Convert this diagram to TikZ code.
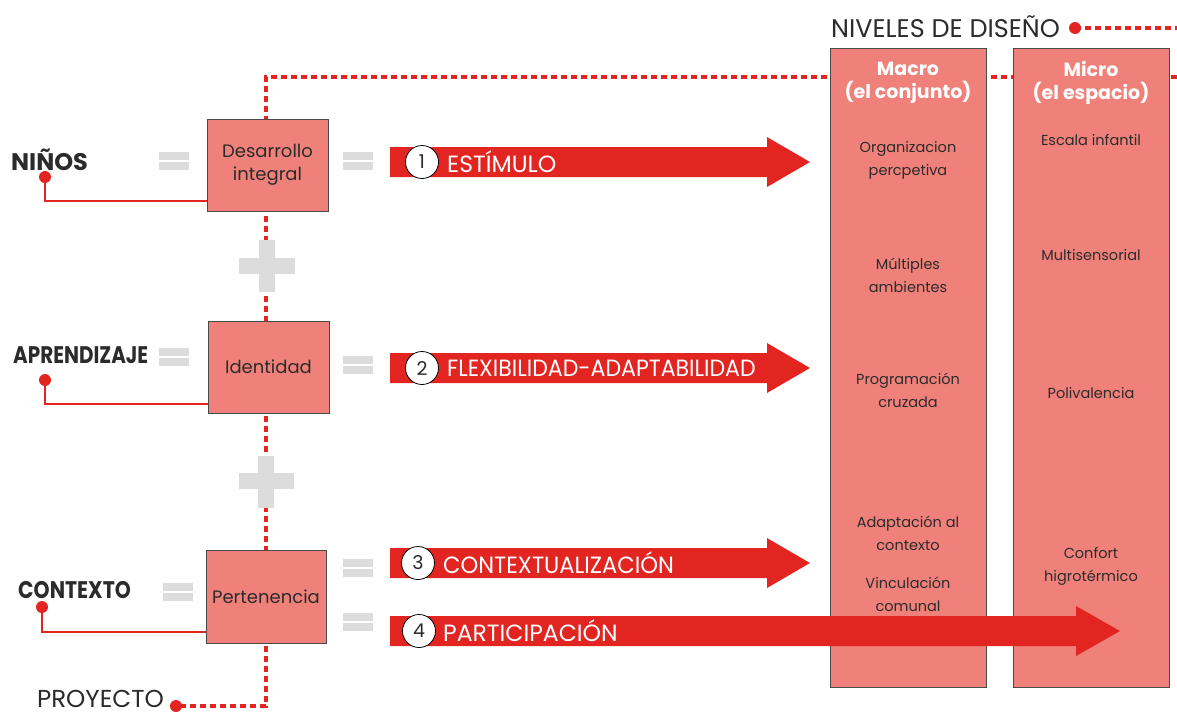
\documentclass[tikz,border=0pt]{standalone}
\usepackage{fontspec}
\setmainfont{Poppins}
\usetikzlibrary{calc}
\definecolor{salmon}{HTML}{F0817A}
\definecolor{redA}{HTML}{E32522}
\definecolor{grayEq}{HTML}{DCDCDC}
\definecolor{edge}{HTML}{4A4A4A}
\definecolor{txt}{HTML}{2B2B2B}
\tikzset{
 box/.style={draw=edge, line width=1pt, fill=salmon, minimum width=121pt, minimum height=92pt, inner sep=0pt, align=center, text=txt, font=\fontsize{18}{23}\selectfont},
 col/.style={draw=edge, line width=1pt, fill=salmon, minimum width=156pt, minimum height=639pt, inner sep=0pt, anchor=north west},
 dotline/.style={draw=redA, line width=3.5pt, dash pattern=on 6pt off 4pt},
 link/.style={draw=redA, line width=2pt},
 reddot/.style={circle, fill=redA, inner sep=0pt, minimum size=12pt},
 num/.style={circle, draw=black, line width=0.8pt, fill=white, minimum size=33pt, inner sep=0pt, text=txt, font=\fontsize{19}{19}\selectfont},
 arrtxt/.style={text=white, anchor=west, inner sep=0pt, font=\fontsize{23.5}{23.5}\selectfont},
 coltxt/.style={text=txt, align=center, inner sep=0pt, font=\fontsize{14.5}{23}\selectfont},
 lbl/.style={text=txt, anchor=west, inner sep=0pt, font=\bfseries\fontsize{24}{24}\selectfont},
 title/.style={text=white, align=center, inner sep=0pt, font=\bfseries\fontsize{19}{23}\selectfont},
}
\newcommand{\eqmark}[2]{\fill[grayEq] (#1,#2) rectangle ++(30,7.5); \fill[grayEq] (#1,#2+10) rectangle ++(30,7.5);}
\newcommand{\bigarrow}[4]{\fill[redA] (#1,#4-15) -- (#2,#4-15) -- (#2,#4-25) -- (#3,#4) -- (#2,#4+25) -- (#2,#4+15) -- (#1,#4+15) -- cycle;}
\begin{document}
\begin{tikzpicture}[x=1pt,y=-1pt]
\useasboundingbox (0,0) rectangle (1177,716);
% dotted spine
\coordinate (tl) at (266,77);
\coordinate (tr) at (1177,77);
\coordinate (pc) at (266,706);
\node[reddot] (pdot) at (176,706) {};
\draw[dotline] (tr) -- (tl) -- (pc) -- (pdot.center);
\node[anchor=base east, inner sep=0pt, text=txt, font=\fontsize{24.5}{24.5}\selectfont] (proy) at (164,707) {PROYECTO};
% columns
\node[col] (macro) at (830,48) {};
\node[col] (micro) at (1013,48) {};
\node[title] (tmacro) at (908,83) {Macro\\(el conjunto)};
\node[title] (tmicro) at (1091,83) {Micro\\(el espacio)};
% niveles
\node[anchor=base west, inner sep=0pt, text=txt, font=\fontsize{25.5}{25.5}\selectfont] (niv) at (831,37) {NIVELES DE DISEÑO};
\node[reddot] (ndot) at (1075,28) {};
\coordinate (nend) at (1177,28);
\draw[dotline] (ndot.center) -- (nend);
% column texts
\node[coltxt] (c1) at (908,160) {Organizacion\\percpetiva};
\node[coltxt] (c2) at (908,275) {Múltiples\\ambientes};
\node[coltxt] (c3) at (908,390) {Programación\\cruzada};
\node[coltxt] (c4) at (908,533) {Adaptación al\\contexto};
\node[coltxt] (c5) at (908,594) {Vinculación\\comunal};
\node[coltxt] (m1) at (1091,140) {Escala infantil};
\node[coltxt] (m2) at (1091,255) {Multisensorial};
\node[coltxt] (m3) at (1091,393) {Polivalencia};
\node[coltxt] (m4) at (1091,566) {Confort\\higrotérmico};
% boxes
\node[box] (b1) at (267.5,165) {Desarrollo\\integral};
\node[box] (b2) at (268.5,367) {Identidad};
\node[box, minimum width=120pt, minimum height=93pt] (b3) at (266,596.5) {Pertenencia};
% plus signs
\fill[grayEq] (259,240) rectangle (275,292);
\fill[grayEq] (239,258) rectangle (295,274);
\fill[grayEq] (258,456) rectangle (274,508);
\fill[grayEq] (239,473) rectangle (294,489);
% equals
\eqmark{159}{152}
\eqmark{343}{152}
\eqmark{159}{348}
\eqmark{343}{356}
\eqmark{163}{583}
\eqmark{343}{559}
\eqmark{343}{613}
% left labels
\node[lbl] (ninos) at (11,160) {NIÑOS};
\node[lbl] (apr) at (13,355) {\scalebox{0.83}[1]{APRENDIZAJE}};
\node[lbl] (ctx) at (18,590) {\scalebox{0.85}[1]{CONTEXTO}};
\node[reddot] (d1) at (45,177) {};
\node[reddot] (d2) at (45,380) {};
\node[reddot] (d3) at (42,607) {};
\draw[link] (d1.center) |- ([yshift=11pt]b1.south west);
\draw[link] (d2.center) |- ([yshift=10pt]b2.south west);
\draw[link] (d3.center) |- ([yshift=12pt]b3.south west);
% arrows
\bigarrow{390}{767}{810}{162}
\bigarrow{390}{767}{810}{368}
\bigarrow{390}{767}{810}{563}
\bigarrow{390}{1076}{1120}{631}
\node[num] (n1) at (422,162) {1};
\node[num] (n2) at (422,368) {2};
\node[num] (n3) at (418,563) {3};
\node[num] (n4) at (419,631) {4};
\node[arrtxt] (a1) at (447,162) {ESTÍMULO};
\node[arrtxt] (a2) at (447,368) {\scalebox{0.94}[1]{FLEXIBILIDAD-ADAPTABILIDAD}};
\node[arrtxt] (a3) at (443,563) {\scalebox{0.96}[1]{CONTEXTUALIZACIÓN}};
\node[arrtxt] (a4) at (443,631) {PARTICIPACIÓN};
\end{tikzpicture}
\end{document}
